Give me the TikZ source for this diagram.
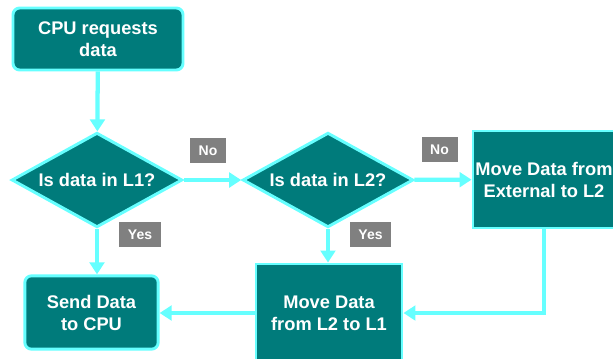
\documentclass[tikz,border=0pt]{standalone}
\usepackage{fontspec}
\setmainfont{Liberation Sans}
\usepackage{xcolor}
\definecolor{dnxanh}{HTML}{007B7B}
\definecolor{dnvien}{HTML}{66FFFF}
\definecolor{dnxam}{HTML}{808080}
\def\maunen{dnxanh}
\def\mauvien{dnvien}
\usetikzlibrary{shapes.geometric,arrows.meta,positioning}

\begin{document}
\begin{tikzpicture}[x=0.75pt,y=-0.75pt]%
		\tikzset{
			hop/.style={draw=\mauvien,fill=\maunen,line width=2.2pt,text=white,align=center,inner sep=0pt,
				font=\bfseries\fontsize{13.7}{16.5}\selectfont},
			hopbo/.style={hop,rounded corners=5pt},
			thoi/.style={hop,diamond,aspect=1.8,minimum width=128pt,minimum height=71pt},
			nhan/.style={fill=dnxam,text=white,inner xsep=6.5pt,inner ysep=0pt,minimum height=18.5pt,
				font=\bfseries\fontsize{10.5}{12}\selectfont},
			muiten/.style={draw=\mauvien,line width=3.2pt,-{Triangle[length=9pt,width=11pt]}}
		}
		\useasboundingbox (0,0) rectangle (613,358);
		\clip (0,0) rectangle (613,358);
		%% cac khoi
		\node[hopbo,minimum width=127.5pt,minimum height=46.5pt] (yeucau) at (98,39) {CPU requests\\data};
		\node[thoi] (l1) at (97,180) {Is data in L1?};
		\node[thoi] (l2) at (328,180) {Is data in L2?};
		\node[hop,minimum width=106.5pt,minimum height=72.75pt] (ngoai) at (544,179.5) {Move Data from\\External to L2};
		\node[hop,minimum width=109.5pt,minimum height=73.5pt] (chuyen) at (329,313) {Move Data\\from L2 to L1};
		\node[hopbo,minimum width=100pt,minimum height=55pt] (gui) at (91.5,312.5) {Send Data\\to CPU};
		%% nhan
		\foreach \ten/\x/\y/\chu in {no1/208/150.5/No,no2/439.5/149.5/No,yes1/140/234.5/Yes,yes2/370.5/234.5/Yes}{%
			\node[nhan] (\ten) at (\x,\y) {\chu};
		}
		%% mui ten
		\draw[muiten] (yeucau) -- (l1);
		\draw[muiten] (l1) -- (l2);
		\draw[muiten] (l2) -- (ngoai);
		\draw[muiten] (l1.south) -- (l1.south |- gui.north);
		\draw[muiten] (l2.south) -- (l2.south |- chuyen.north);
		\draw[muiten] (ngoai.south) |- (chuyen.east);
		\draw[muiten] (chuyen.west) -- (chuyen.west -| gui.east);
	\end{tikzpicture}
\end{document}
